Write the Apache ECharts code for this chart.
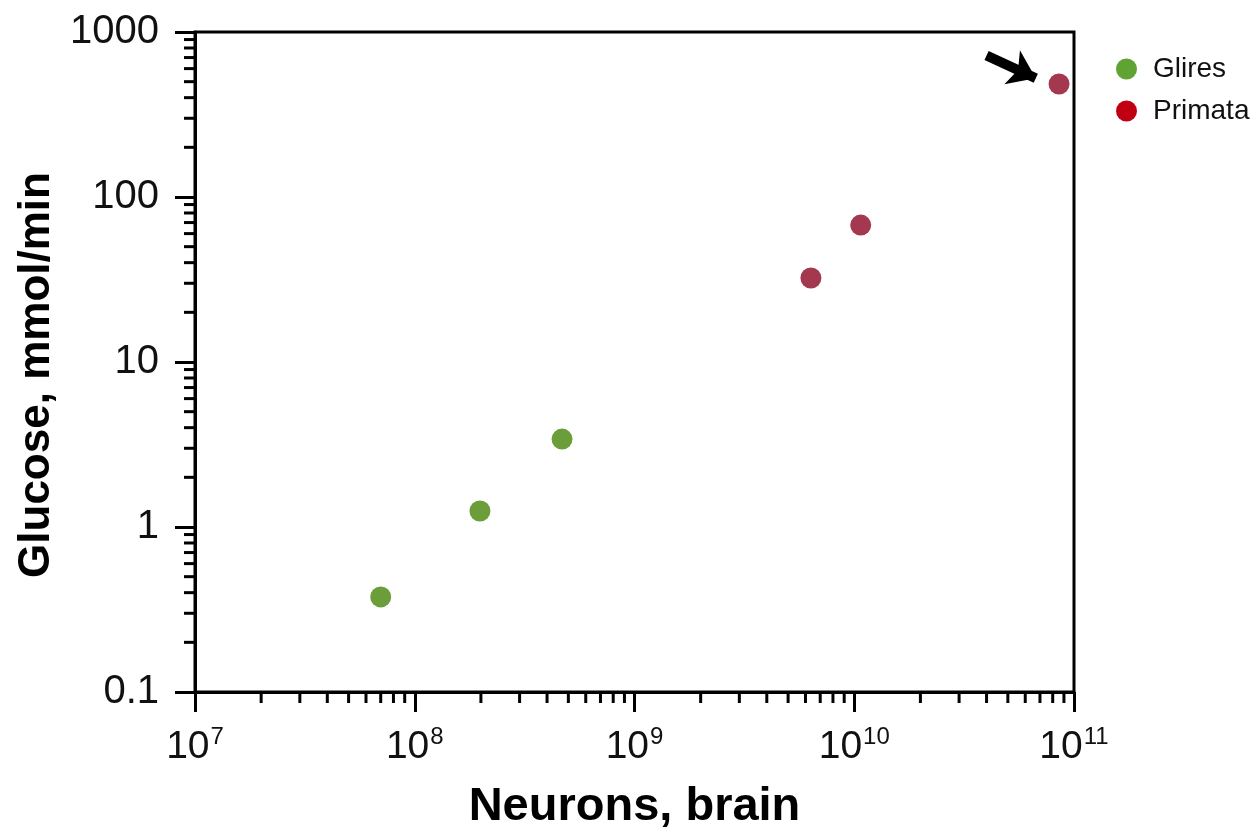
<!DOCTYPE html>
<html>
<head>
<meta charset="utf-8">
<script src="https://cdn.jsdelivr.net/npm/echarts@6/dist/echarts.min.js"></script>
<style>html,body{margin:0;padding:0;background:#fff}#c{width:1259px;height:833px}</style>
</head>
<body>
<div id="c"></div>
<script>
// Data (neurons in brain, glucose mmol/min)
const seriesNames = ['Glires', 'Primata'];
const gliresNeurons = [7.0e7, 1.98e8, 4.68e8];
const gliresGlucose = [0.377, 1.25, 3.41];
const primataNeurons = [6.35e9, 1.07e10, 8.55e10];
const primataGlucose = [32.3, 67.6, 484];
const xTickExponents = [7, 8, 9, 10, 11];
const yTickLabels = ['0.1', '1', '10', '100', '1000'];
const arrowFrom = [4.0e10, 720];
const arrowTo = [6.7e10, 525];

const xMin = 1e7, xMax = 1e11, yMin = 0.1, yMax = 1000;
const minorX = [];
for (let e = 7; e < 11; e++) for (let m = 2; m <= 9; m++) minorX.push(m * Math.pow(10, e));
const minorY = [];
for (let e = -1; e < 3; e++) for (let m = 2; m <= 9; m++) minorY.push(+(m * Math.pow(10, e)).toPrecision(3));

const FONT = '"Liberation Sans", Arial, Helvetica, sans-serif';
const chart = echarts.init(document.getElementById('c'));

function zip(a, b) { return a.map((v, i) => [v, b[i]]); }

chart.setOption({
  animation: false,
  textStyle: { fontFamily: FONT },
  grid: {
    left: 195, top: 32, right: 185, bottom: 141,
    outerBoundsMode: 'none', containLabel: false,
    show: true, borderColor: '#000', borderWidth: 3, backgroundColor: 'transparent'
  },
  legend: {
    left: 1111, top: 50, orient: 'vertical', itemGap: 14,
    itemWidth: 21, itemHeight: 21, icon: 'circle',
    textStyle: { fontSize: 28, color: '#111', fontFamily: FONT, padding: [0, 0, 0, 11] },
    data: [
      { name: seriesNames[0], itemStyle: { color: '#5fa333', opacity: 1 } },
      { name: seriesNames[1], itemStyle: { color: '#c00012', opacity: 1 } }
    ]
  },
  xAxis: {
    type: 'log', min: xMin, max: xMax, logBase: 10,
    name: 'Neurons, brain', nameLocation: 'middle', nameGap: 92,
    nameTextStyle: { fontSize: 47, fontWeight: 'bold', color: '#000', fontFamily: FONT },
    axisLine: { lineStyle: { color: '#000', width: 3 } },
    axisTick: { inside: false, length: 20, lineStyle: { color: '#000', width: 3 } },
    splitLine: { show: false },
    axisLabel: {
      margin: 33, color: '#111',
      formatter: function (v) { return '{b|10}{s|' + Math.round(Math.log10(v)) + '}'; },
      rich: {
        b: { fontSize: 39, fontFamily: FONT, color: '#111', lineHeight: 44 },
        s: { fontSize: 24, fontFamily: FONT, color: '#111', verticalAlign: 'top', lineHeight: 30, padding: [0, 0, 0, 1] }
      }
    }
  },
  yAxis: {
    type: 'log', min: yMin, max: yMax, logBase: 10,
    name: 'Glucose, mmol/min', nameLocation: 'middle', nameGap: 133,
    nameTextStyle: { fontSize: 44, fontWeight: 'bold', color: '#000', fontFamily: FONT, padding: [0, 26, 0, 0] },
    axisLine: { lineStyle: { color: '#000', width: 3 } },
    axisTick: { inside: false, length: 20, lineStyle: { color: '#000', width: 3 } },
    splitLine: { show: false },
    axisLabel: {
      margin: 36, fontSize: 40, color: '#111', fontFamily: FONT,
      formatter: function (v) {
        const e = Math.round(Math.log10(v));
        return yTickLabels[e + 1];
      }
    }
  },
  series: [
    {
      name: seriesNames[0], type: 'scatter', symbolSize: 21,
      itemStyle: { color: '#6b9e3b', opacity: 1 },
      data: zip(gliresNeurons, gliresGlucose), z: 5
    },
    {
      name: seriesNames[1], type: 'scatter', symbolSize: 21,
      itemStyle: { color: '#a3384e', opacity: 1 },
      data: zip(primataNeurons, primataGlucose), z: 5,
      markLine: {
        silent: true, animation: false,
        symbol: ['none', 'arrow'], symbolSize: [28, 26],
        lineStyle: { color: '#000', width: 10, type: 'solid', opacity: 1 },
        label: { show: false },
        emphasis: { disabled: true },
        data: [[{ coord: arrowFrom }, { coord: arrowTo }]]
      }
    },
    {
      type: 'custom', silent: true, clip: false, z: 3,
      data: minorX.map(v => [v, yMin]),
      renderItem: function (params, api) {
        const p = api.coord([api.value(0), yMin]);
        return { type: 'line', shape: { x1: p[0], y1: p[1], x2: p[0], y2: p[1] + 11 }, style: { stroke: '#000', lineWidth: 3 } };
      }
    },
    {
      type: 'custom', silent: true, clip: false, z: 3,
      data: minorY.map(v => [xMin, v]),
      renderItem: function (params, api) {
        const p = api.coord([xMin, api.value(1)]);
        return { type: 'line', shape: { x1: p[0], y1: p[1], x2: p[0] - 11, y2: p[1] }, style: { stroke: '#000', lineWidth: 3 } };
      }
    }
  ]
});
</script>
</body>
</html>
